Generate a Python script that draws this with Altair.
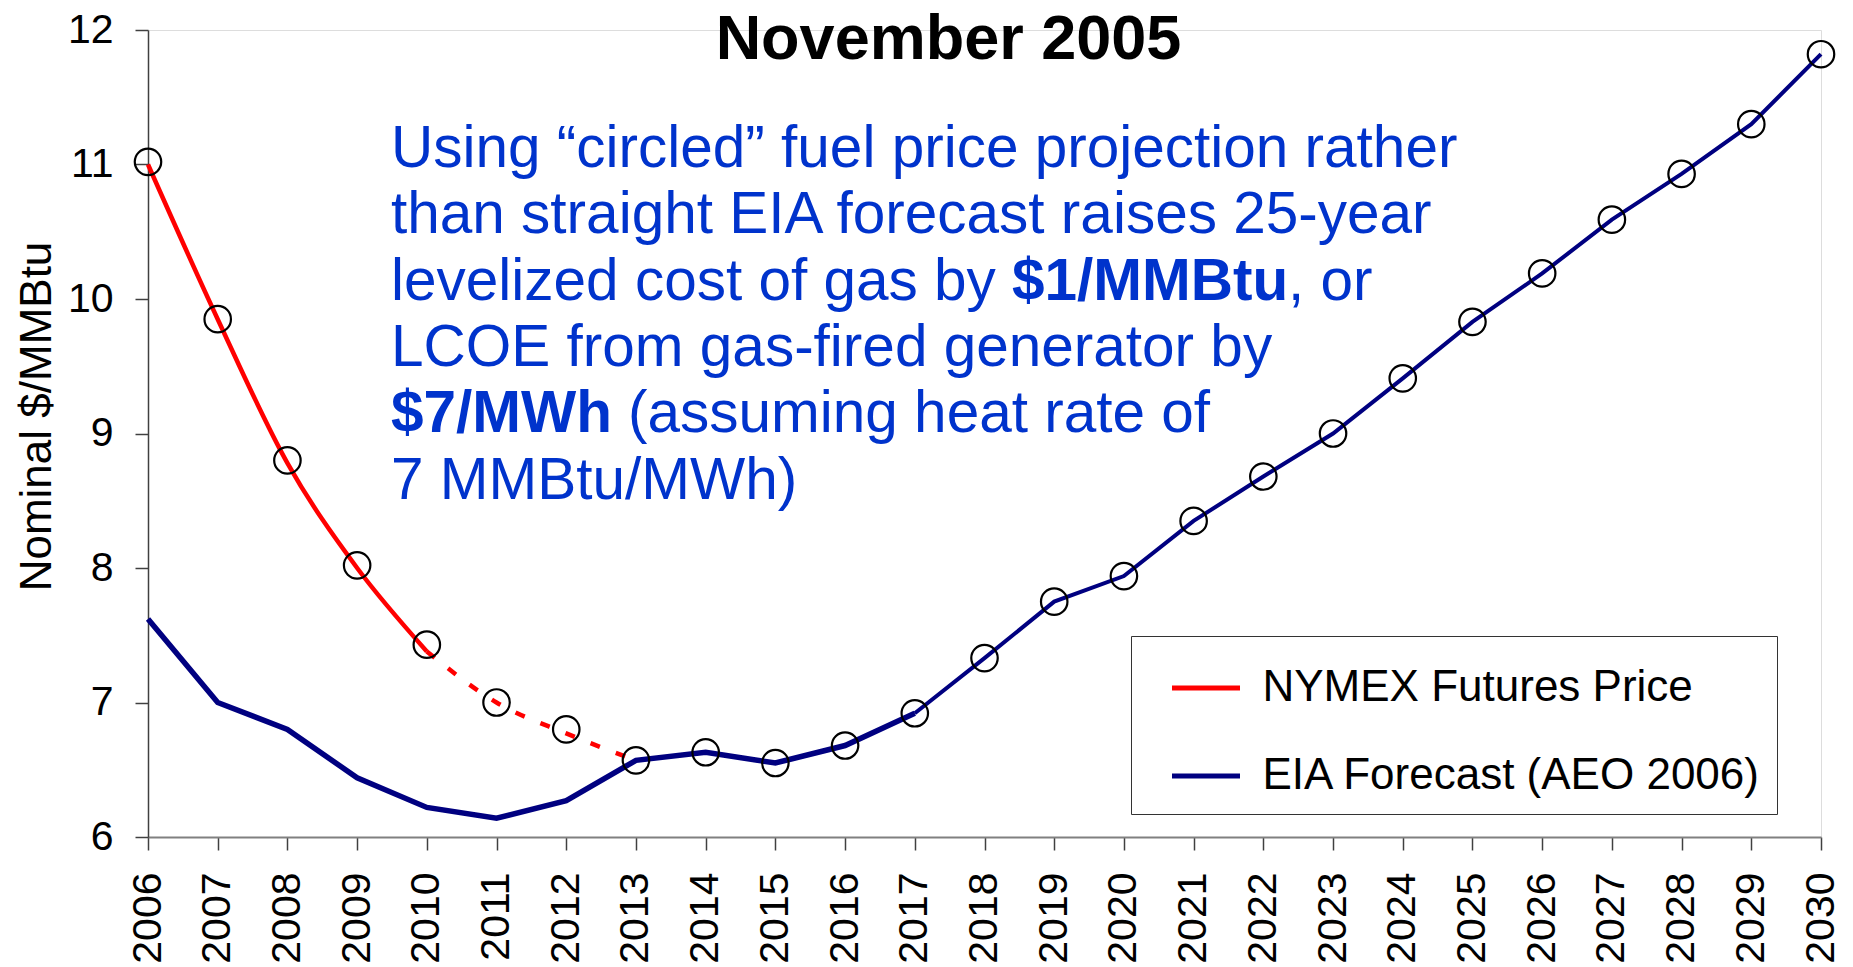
import altair as alt
import pandas as pd

FONT = "Liberation Sans"

# ---------------- data ----------------
years = list(range(2006, 2031))
eia_forecast = [7.62, 7.00, 6.80, 6.44, 6.22, 6.14, 6.27, 6.57, 6.63, 6.55,
                6.68, 6.92, 7.33, 7.75, 7.94, 8.35, 8.68, 9.00, 9.41, 9.83,
                10.19, 10.59, 10.93, 11.30, 11.82]
nymex_years = [2006, 2007, 2008, 2009, 2010]
nymex_futures = [11.00, 9.85, 8.78, 8.00, 7.38]
extrap_years = [2010, 2011, 2012, 2013]
extrap_values = [7.38, 7.00, 6.77, 6.57]
circled_years = years
circled_values = [11.02, 9.85, 8.80, 8.02, 7.43, 7.00, 6.80,
                  6.57, 6.63, 6.55, 6.68, 6.92, 7.33, 7.75, 7.94, 8.35,
                  8.68, 9.00, 9.41, 9.83, 10.19, 10.59, 10.93, 11.30, 11.82]
y_ticks = [6, 7, 8, 9, 10, 11, 12]

series_names = ["NYMEX Futures Price", "EIA Forecast (AEO 2006)"]
series_colors = ["#FF0000", "#000080"]

title_text = "November 2005"
y_title = "Nominal $/MMBtu"
note_lines = [
    "Using \u201ccircled\u201d fuel price projection rather",
    "than straight EIA forecast raises 25-year",
    "levelized cost of gas by",
    "$1/MMBtu",
    ", or",
    "LCOE from gas-fired generator by",
    "$7/MWh",
    "(assuming heat rate of",
    "7 MMBtu/MWh)",
]

# ---------------- tables ----------------
nymex_df = pd.DataFrame({"year": nymex_years, "price": nymex_futures,
                         "series": series_names[0]})
eia_df = pd.DataFrame({"year": years, "price": eia_forecast,
                       "series": series_names[1]})
extrap_df = pd.DataFrame({"year": extrap_years, "price": extrap_values})
circ_df = pd.DataFrame({"year": circled_years, "price": circled_values})

# ---------------- encodings ----------------
x_enc = alt.X(
    "year:Q",
    scale=alt.Scale(domain=[2006, 2030], nice=False, zero=False),
    axis=alt.Axis(
        values=years, format="d", title=None, labelAngle=270,
        labelFont=FONT, labelFontSize=41, labelColor="black",
        labelPadding=22, tickSize=13, tickColor="#404040", tickWidth=1.5,
        domainColor="#808080", domainWidth=2, grid=False,
        labelOverlap=False, labelFlush=False,
    ),
)
y_enc = alt.Y(
    "price:Q",
    scale=alt.Scale(domain=[6, 12], nice=False, zero=False),
    axis=alt.Axis(
        values=y_ticks, format="d", title=y_title,
        labelFont=FONT, labelFontSize=41, labelColor="black",
        labelPadding=22, tickSize=13, tickColor="#404040", tickWidth=1.5,
        domainColor="#404040", domainWidth=1.5, grid=False,
        labelOverlap=False, labelFlush=False,
        titleFont=FONT, titleFontSize=44, titleFontWeight="normal",
        titleColor="black", titleAngle=270, titleAlign="center",
        titleBaseline="alphabetic", titleX=-98, titleY=386,
    ),
)
color_scale = alt.Scale(domain=series_names, range=series_colors)
legend = alt.Legend(
    title=None, orient="none", legendX=983, legendY=606,
    direction="vertical", symbolType="stroke", symbolSize=4624,
    symbolStrokeWidth=5, labelFont=FONT, labelFontSize=44,
    labelColor="black", labelLimit=0, labelOffset=20,
    labelExpr="datum.label + '\u00a0\u00a0'",
    symbolOffset=23, padding=15.5, rowPadding=29,
    strokeColor="#333333", fillColor="white", cornerRadius=0,
)

nymex_line = alt.Chart(nymex_df).mark_line(
    strokeWidth=4.5, interpolate="monotone"
).encode(x=x_enc, y=y_enc,
         color=alt.Color("series:N", scale=color_scale, legend=legend))

eia_line_early = alt.Chart(eia_df).transform_filter(
    alt.datum.year <= 2017
).mark_line(strokeWidth=5.5).encode(
    x=x_enc, y=y_enc,
    color=alt.Color("series:N", scale=color_scale, legend=legend))

eia_line_late = alt.Chart(eia_df).transform_filter(
    alt.datum.year >= 2017
).mark_line(strokeWidth=4).encode(
    x=x_enc, y=y_enc,
    color=alt.Color("series:N", scale=color_scale, legend=legend))

extrap_line = alt.Chart(extrap_df).mark_line(
    strokeWidth=4.5, strokeDash=[10, 17], color="#FF0000", interpolate="monotone"
).encode(x=x_enc, y=y_enc)

circles = alt.Chart(circ_df).mark_point(
    shape="circle", size=700, filled=False, color="black",
    strokeWidth=2.2, opacity=1
).encode(x=x_enc, y=y_enc)


def note(text, x, y, bold=False, size=58.5, color="#0033CC", align="left"):
    return alt.Chart(pd.DataFrame({"t": [text]})).mark_text(
        align=align, baseline="alphabetic", font=FONT, fontSize=size,
        fontWeight="bold" if bold else "normal", color=color,
    ).encode(x=alt.value(x), y=alt.value(y), text="t:N")


texts = [
    note(title_text, 800.5, 29, bold=True, size=63, color="black", align="center"),
    note(note_lines[0], 243, 137),
    note(note_lines[1], 243, 203.3),
    note(note_lines[2], 243, 269.6),
    note(note_lines[3], 864, 269.6, bold=True),
    note(note_lines[4], 1140, 269.6),
    note(note_lines[5], 243, 335.9),
    note(note_lines[6], 243, 402.2, bold=True),
    note(note_lines[7], 480, 402.2),
    note(note_lines[8], 243, 468.5),
]

chart = alt.layer(
    eia_line_early, eia_line_late, nymex_line, extrap_line, circles, *texts
).properties(
    width=1673, height=807,
    padding={"left": 140, "top": 22, "right": 20, "bottom": 130},
    autosize=alt.AutoSizeParams(type="none"),
).configure_view(stroke=None).configure(background="white")

chart.save("out.html", embed_options={"renderer": "svg", "actions": False})
